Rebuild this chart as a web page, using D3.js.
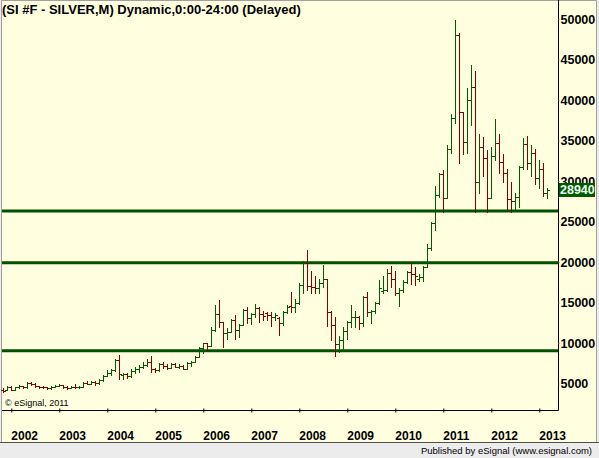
<!DOCTYPE html>
<meta charset="utf-8">
<body style="margin:0">
<script src="https://d3js.org/d3.v7.min.js"></script>
<script>

// monthly silver bars, first bar is Nov 2001 (index -2 from Jan 2002)
var firstMonth = -2;
var yearTicks = [2002, 2003, 2004, 2005, 2006, 2007, 2008, 2009, 2010, 2011, 2012, 2013];
var priceTicks = [5000, 10000, 15000, 20000, 25000, 30000, 35000, 40000, 45000, 50000];
var levels = [26300, 19900, 9050];
var lastPrice = 28940;

var open = [
  4150, 4200,
  4600, 4250, 4530, 4730, 4530, 5100, 4950, 4680, 4560, 4550, 4400, 4600,
  4750, 4820, 4580, 4450, 4600, 4550, 4560, 5100, 5000, 5150, 5050, 5400,
  5950, 6250, 6700, 7950, 6050, 6150, 5900, 6600, 6850, 7050, 7300, 7700,
  6800, 6700, 7350, 7100, 6950, 7400, 7050, 7200, 6850, 7500, 7700, 8300,
  9340, 9960, 9630, 11600, 13580, 12630, 11270, 11400, 12840, 11600, 12220, 14070,
  13050, 13580, 14280, 13580, 13700, 13450, 13250, 13100, 12430, 13870, 14600, 14400,
  14980, 17160, 19920, 17040, 16870, 16750, 17450, 17860, 13870, 12220, 9840, 10370,
  11520, 12630, 13170, 13250, 12430, 15720, 13790, 13990, 14980, 16400, 16540, 18600,
  17860, 16210, 16540, 17570, 18800, 18480, 17950, 18150, 19420, 21770, 24780, 28270,
  30900, 27940, 33910, 37740, 48020, 38480, 34780, 40000, 41560, 29920, 34160, 32880,
  27940, 33130, 34730, 32390, 30950, 27780, 27530, 27990, 31770, 34530, 32260, 33500,
  30330, 31440, 28560
];
var high = [
  4400, 4690,
  4700, 4570, 4810, 4750, 5220, 5220, 5100, 4700, 4650, 4620, 4700, 4850,
  5000, 4850, 4650, 4750, 4900, 4700, 5150, 5250, 5300, 5250, 5500, 6000,
  6650, 6850, 8020, 8520, 6300, 6300, 6750, 7080, 7300, 7700, 8000, 8400,
  6950, 7500, 7600, 7400, 7500, 7550, 7350, 7300, 7600, 7800, 8400, 9470,
  10040, 10000, 11940, 14690, 15310, 12630, 11810, 12960, 13450, 12350, 14160, 14490,
  13660, 14810, 14400, 13950, 13870, 13870, 13740, 13170, 13990, 14690, 16340, 15390,
  17450, 20120, 21480, 18930, 18310, 17900, 19630, 17900, 13950, 13170, 10860, 12010,
  12720, 14690, 13950, 13330, 15800, 16260, 14070, 15100, 17780, 18270, 19090, 19510,
  18930, 16830, 17780, 18930, 19920, 19340, 18520, 19510, 22220, 24900, 29420, 30950,
  31360, 34440, 38270, 49880, 48230, 38560, 41440, 44320, 43580, 35800, 35470, 33830,
  34240, 37650, 35800, 33330, 31440, 29840, 28560, 31890, 35270, 35550, 34440, 33910,
  32590, 32260, 29170
];
var low = [
  3990, 4150,
  4200, 4200, 4400, 4400, 4500, 4810, 4600, 4450, 4450, 4350, 4380, 4550,
  4650, 4500, 4350, 4450, 4500, 4500, 4550, 4900, 4950, 4850, 5000, 5300,
  5900, 6100, 6600, 5550, 5550, 5650, 5850, 6300, 6400, 6900, 7100, 6450,
  6400, 6600, 6950, 6850, 6900, 7000, 6900, 6750, 6800, 7100, 7600, 8230,
  8720, 9140, 9600, 11520, 11940, 9470, 10460, 11400, 10490, 10780, 12220, 12430,
  12300, 13170, 12630, 12840, 12840, 12100, 12840, 10990, 12220, 13740, 13870, 13870,
  14810, 16210, 16540, 16210, 16130, 16210, 16870, 12140, 10370, 8430, 8930, 9050,
  10460, 12010, 12010, 11730, 12140, 13370, 12430, 13670, 14810, 16130, 16460, 16950,
  15930, 14610, 16340, 17450, 17240, 17160, 17690, 17690, 19340, 21480, 23950, 28060,
  26210, 27860, 33500, 37120, 32260, 33330, 33500, 36910, 26210, 28480, 30660, 26210,
  27860, 32590, 31030, 29920, 26540, 26130, 26420, 26830, 31480, 31480, 30660, 29630,
  29170, 28190, 27940
];
var close = [
  4120, 4600,
  4250, 4530, 4730, 4530, 5100, 4950, 4680, 4560, 4550, 4400, 4600, 4750,
  4820, 4580, 4450, 4600, 4550, 4560, 5100, 5000, 5150, 5050, 5400, 5950,
  6250, 6700, 7950, 6200, 6150, 5900, 6600, 6850, 7050, 7300, 7700, 6800,
  6700, 7350, 7100, 6950, 7400, 7050, 7200, 6850, 7500, 7700, 8300, 9340,
  9960, 9630, 11600, 13580, 12630, 11270, 11400, 12840, 11600, 12220, 14070, 13050,
  13580, 14280, 13580, 13330, 13450, 13250, 13400, 12430, 13870, 14490, 14400, 14980,
  17160, 19920, 17040, 16870, 16750, 17450, 17860, 13870, 12220, 9840, 10370, 11520,
  12630, 13170, 13250, 12430, 15720, 13790, 13990, 14980, 16750, 16540, 18600, 17860,
  16210, 16540, 17570, 18800, 18480, 18250, 18150, 19420, 21770, 24780, 28270, 30900,
  27940, 33910, 37740, 48020, 38480, 34780, 40000, 41560, 29920, 34160, 32880, 27940,
  33130, 34730, 32390, 30950, 27780, 27530, 27990, 31770, 34530, 32260, 33500, 30330,
  31440, 28560, 28940
];

var W = 599, H = 458;
var axisX = 558.5, axisY = 410.5;
var font = "'Liberation Sans', Arial, sans-serif";

// months since Jan 2002 -> px
var x = d3.scaleLinear().domain([0, 132]).range([11.3, 539.3]);
var y = d3.scaleLinear().domain([0, 50000]).range([424, 19]);

var svg = d3.select("body").append("svg")
    .attr("width", W)
    .attr("height", H)
    .style("display", "block");

// backgrounds
svg.append("rect").attr("width", W).attr("height", H).attr("fill", "#ececec");
svg.append("rect").attr("x", 1).attr("y", 0).attr("width", 596).attr("height", 442)
    .attr("fill", "#ffffe0");

// frame
svg.append("path")
    .attr("d", "M1.5,443V0.5H596.5V443")
    .attr("fill", "none").attr("stroke", "#a0a0a0");
svg.append("line").attr("x1", 0).attr("x2", W).attr("y1", 442.5).attr("y2", 442.5)
    .attr("stroke", "#505050");

// support lines
svg.selectAll(".level")
    .data(levels)
  .enter().append("line")
    .attr("class", "level")
    .attr("x1", 2).attr("x2", axisX)
    .attr("y1", function(d) { return y(d); })
    .attr("y2", function(d) { return y(d); })
    .attr("stroke", "#005200")
    .attr("stroke-width", 3);

// ohlc bars
var bars = d3.range(open.length).map(function(i) {
  return {m: i + firstMonth, o: open[i], h: high[i], l: low[i], c: close[i]};
});

function px(v) { return Math.round(y(v)) + 0.5; }

svg.append("g")
    .attr("shape-rendering", "crispEdges")
  .selectAll("path")
    .data(bars)
  .enter().append("path")
    .attr("fill", "none")
    .attr("stroke", function(d) { return d.c >= d.o ? "#005a00" : "#870000"; })
    .attr("d", function(d) {
      var cx = Math.floor(x(d.m)) + 0.5;
      return "M" + cx + "," + (Math.round(y(d.h))) + "V" + (Math.round(y(d.l)) + 1) +
             "M" + (cx - 2.5) + "," + px(d.o) + "H" + (cx - 0.5) +
             "M" + (cx + 0.5) + "," + px(d.c) + "H" + (cx + 2.5);
    });

// bottom axis
var xAxis = svg.append("g")
    .attr("transform", "translate(0," + axisY + ")")
    .call(d3.axisBottom(x)
      .tickValues(yearTicks.map(function(yr) { return (yr - 2002) * 12; }))
      .tickFormat(function(d) { return 2002 + d / 12; })
      .tickSize(2)
      .tickPadding(19));
xAxis.select(".domain").remove();
xAxis.selectAll(".tick line").attr("y1", -2).attr("stroke", "#000");
xAxis.selectAll(".tick text")
    .attr("text-anchor", "start")
    .attr("x", -0.5)
    .style("font", "bold 12px " + font)
    .attr("fill", "#000");

svg.append("path")
    .attr("d", "M2," + axisY + "H" + axisX + "V0")
    .attr("fill", "none").attr("stroke", "#000");

// right axis
var yAxis = svg.append("g")
    .attr("transform", "translate(" + axisX + ",0)")
    .call(d3.axisRight(y).tickValues(priceTicks).tickSize(1).tickPadding(1)
      .tickFormat(d3.format("d")));
yAxis.select(".domain").remove();
yAxis.selectAll(".tick line").attr("stroke", "#b07030");
yAxis.selectAll(".tick text")
    .style("font", "bold 12.5px " + font)
    .attr("fill", "#000");

// last price box
svg.append("rect")
    .attr("x", 559).attr("y", Math.round(y(lastPrice)) - 7)
    .attr("width", 36).attr("height", 14)
    .attr("fill", "#005a00");
svg.append("text")
    .attr("x", 560).attr("y", y(lastPrice)).attr("dy", "0.36em")
    .style("font", "bold 12.5px " + font)
    .attr("fill", "#e8fff0")
    .text(lastPrice);

// texts
svg.append("text")
    .attr("x", 2).attr("y", 14)
    .style("font", "bold 13px " + font)
    .attr("fill", "#000")
    .text("(SI #F - SILVER,M) Dynamic,0:00-24:00 (Delayed)");

svg.append("text")
    .attr("x", 5).attr("y", 405.5)
    .style("font", "9px " + font)
    .attr("fill", "#000")
    .text("\u00a9 eSignal, 2011");

svg.append("text")
    .attr("x", 592).attr("y", 454)
    .attr("text-anchor", "end")
    .style("font", "9.5px " + font)
    .attr("fill", "#000")
    .text("Published by eSignal (www.esignal.com)");

</script>
</body>
